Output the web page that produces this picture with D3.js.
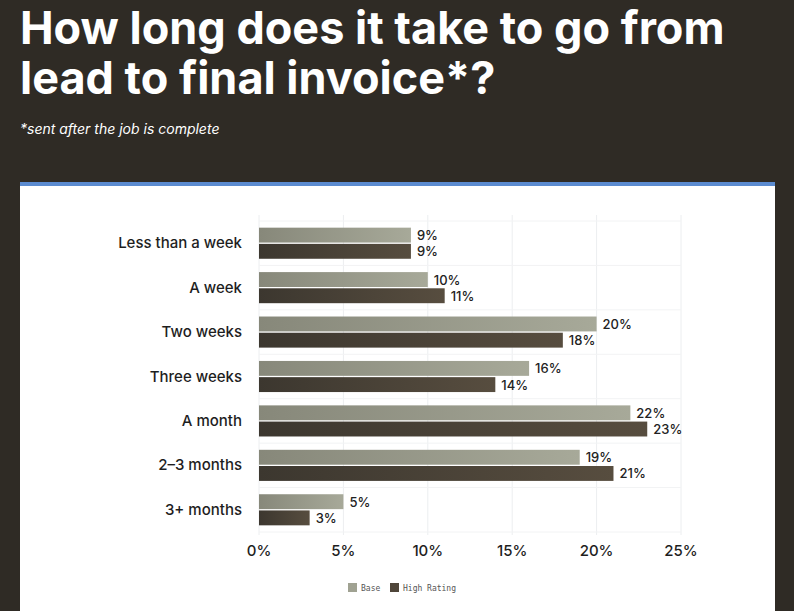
<!DOCTYPE html>
<html><head><meta charset="utf-8">
<script src="https://cdn.jsdelivr.net/npm/d3@7"></script>
<style>
body{margin:0;background:#2f2b25;width:794px;height:611px;overflow:hidden;font-family:Inter,"Noto Sans",sans-serif}
</style></head><body>
<svg id="c" width="794" height="611"></svg>
<script>
const categories = ["Less than a week","A week","Two weeks","Three weeks","A month","2–3 months","3+ months"];
const base = [9,10,20,16,22,19,5];
const high = [9,11,18,14,23,21,3];
const ticks = [0,5,10,15,20,25];
const seriesNames = ["Base","High Rating"];

const svg = d3.select("#c");
const defs = svg.append("defs");
const grads = [["gBase","#87887a","#a7a999"],["gHigh","#3c372f","#574d3f"]];
grads.forEach(([id,a,b]) => {
  const g = defs.append("linearGradient").attr("id",id);
  g.append("stop").attr("offset","0%").attr("stop-color",a);
  g.append("stop").attr("offset","100%").attr("stop-color",b);
});

svg.append("text").attr("x",20).attr("y",44).attr("fill","#fff").attr("font-size",45).attr("font-weight",700).attr("letter-spacing",0).text("How long does it take to go from");
svg.append("text").attr("x",20).attr("y",94).attr("fill","#fff").attr("font-size",45).attr("font-weight",700).attr("letter-spacing",0).text("lead to final invoice*?");
svg.append("text").attr("x",20).attr("y",134).attr("fill","#fff").attr("font-size",14).attr("font-style","italic").text("*sent after the job is complete");

svg.append("rect").attr("x",20).attr("y",182).attr("width",755).attr("height",430).attr("fill","#fff");
svg.append("rect").attr("x",20).attr("y",182).attr("width",755).attr("height",4).attr("fill","#5b8bd0");

const x = d3.scaleLinear().domain([0,25]).range([259,681]);
const y = d3.scaleBand().domain(categories).range([221,532]).paddingInner(0.3).paddingOuter(0.15);
const sub = d3.scaleBand().domain([0,1]).range([0,y.bandwidth()]).paddingInner(0.08);

svg.append("g").selectAll("line").data(ticks).join("line")
  .attr("x1",d=>x(d)).attr("x2",d=>x(d)).attr("y1",215).attr("y2",535)
  .attr("stroke","#eceef0");
const gap = y.step()*y.paddingInner()/2;
svg.append("g").selectAll("line").data(d3.range(categories.length+1)).join("line")
  .attr("x1",259).attr("x2",681)
  .attr("y1",i=>i<categories.length? y(categories[i]) - gap : y(categories[i-1])+y.bandwidth()+gap)
  .attr("y2",i=>i<categories.length? y(categories[i]) - gap : y(categories[i-1])+y.bandwidth()+gap)
  .attr("stroke","#f2f3f4");

[base,high].forEach((vals,si) => {
  const g = svg.append("g");
  g.selectAll("rect").data(vals).join("rect")
    .attr("x",x(0)).attr("y",(d,i)=>y(categories[i])+sub(si))
    .attr("width",d=>x(d)-x(0)).attr("height",sub.bandwidth())
    .attr("fill",`url(#${grads[si][0]})`);
  g.selectAll("text").data(vals).join("text")
    .attr("x",d=>x(d)+6).attr("y",(d,i)=>y(categories[i])+sub(si)+sub.bandwidth()/2+5)
    .attr("font-size",13).attr("font-weight",500).attr("fill","#222").text(d=>d+"%");
});

svg.append("g").selectAll("text").data(categories).join("text")
  .attr("x",242).attr("y",d=>y(d)+y.bandwidth()/2+5).attr("text-anchor","end")
  .attr("font-size",15).attr("font-weight",500).attr("fill","#1e1e1e").text(d=>d);

svg.append("g").selectAll("text").data(ticks).join("text")
  .attr("x",d=>x(d)).attr("y",556).attr("text-anchor","middle")
  .attr("font-size",15).attr("font-weight",500).attr("fill","#1e1e1e").text(d=>d+"%");

const lg = svg.append("g").attr("font-family","DejaVu Sans Mono,monospace").attr("font-size",8).attr("fill","#555");
const lx = [348,390];
seriesNames.forEach((n,i)=>{
  lg.append("rect").attr("x",lx[i]).attr("y",583).attr("width",9).attr("height",9).attr("fill",i?"#4f463a":"#a0a292");
  lg.append("text").attr("x",lx[i]+13).attr("y",591).text(n);
});
</script></body></html>
